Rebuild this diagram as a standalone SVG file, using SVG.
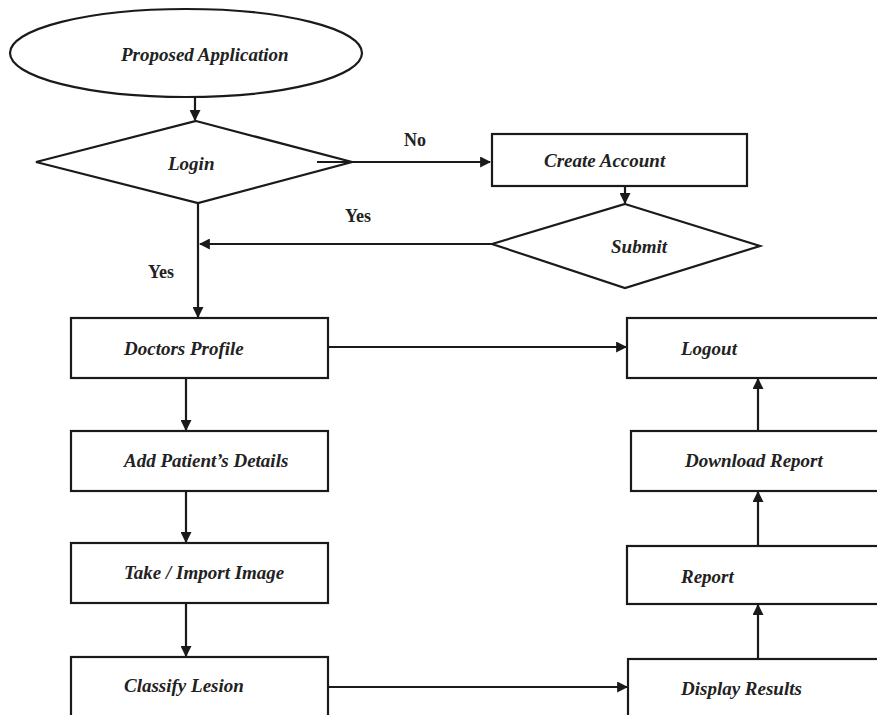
<svg xmlns="http://www.w3.org/2000/svg" width="877" height="715" viewBox="0 0 877 715">
<style>
.shape{fill:#fff;stroke:#1a1a1a;stroke-width:2.2}
.t{font-family:"Liberation Serif","Times New Roman",serif;font-weight:bold;font-style:italic;font-size:19px;fill:#222}
.lbl{font-family:"Liberation Serif","Times New Roman",serif;font-weight:bold;font-size:18px;fill:#222}
.c{fill:none;stroke:#1a1a1a;stroke-width:2.2}
</style>
<defs>
<marker id="ah" viewBox="0 0 10 10" refX="9" refY="5" markerWidth="5" markerHeight="5" orient="auto" markerUnits="strokeWidth">
<path d="M0,0 L10,5 L0,10 z" fill="#1a1a1a"/>
</marker>
</defs>
<rect width="877" height="715" fill="#fff"/>
<g id="connectors">
<line class="c" x1="195" y1="97" x2="195" y2="120" marker-end="url(#ah)"/>
<line class="c" x1="317" y1="162" x2="490" y2="162" marker-end="url(#ah)"/>
<line class="c" x1="625" y1="186" x2="625" y2="203" marker-end="url(#ah)"/>
<line class="c" x1="492" y1="244" x2="200" y2="244" marker-end="url(#ah)"/>
<line class="c" x1="198" y1="203" x2="198" y2="317" marker-end="url(#ah)"/>
<line class="c" x1="186" y1="378" x2="186" y2="430" marker-end="url(#ah)"/>
<line class="c" x1="186" y1="491" x2="186" y2="542" marker-end="url(#ah)"/>
<line class="c" x1="186" y1="603" x2="186" y2="656" marker-end="url(#ah)"/>
<line class="c" x1="328" y1="347" x2="626" y2="347" marker-end="url(#ah)"/>
<line class="c" x1="328" y1="687" x2="627" y2="687" marker-end="url(#ah)"/>
<line class="c" x1="758" y1="659" x2="758" y2="605" marker-end="url(#ah)"/>
<line class="c" x1="758" y1="546" x2="758" y2="492" marker-end="url(#ah)"/>
<line class="c" x1="758" y1="431" x2="758" y2="379" marker-end="url(#ah)"/>
</g>
<g id="proposed-application">
<ellipse class="shape" cx="186" cy="53" rx="176" ry="44"/>
<text class="t" x="121" y="61">Proposed Application</text>
</g>
<g id="login">
<polygon class="shape" points="196,121 352,162 198,203 36,162"/>
<line class="c" x1="317" y1="162" x2="352" y2="162"/>
<text class="t" x="168" y="170">Login</text>
</g>
<g id="create-account">
<rect class="shape" x="492" y="134" width="255" height="52"/>
<text class="t" x="544" y="167">Create Account</text>
</g>
<g id="submit">
<polygon class="shape" points="625,204 760,246 625,288 492,244"/>
<text class="t" x="611" y="253">Submit</text>
</g>
<g id="doctors-profile">
<rect class="shape" x="71" y="318" width="257" height="60"/>
<text class="t" x="124" y="355">Doctors Profile</text>
</g>
<g id="add-patient-details">
<rect class="shape" x="71" y="431" width="257" height="60"/>
<text class="t" x="124" y="467">Add Patient’s Details</text>
</g>
<g id="take-import-image">
<rect class="shape" x="71" y="543" width="257" height="60"/>
<text class="t" x="124" y="579">Take / Import Image</text>
</g>
<g id="classify-lesion">
<rect class="shape" x="71" y="657" width="257" height="62"/>
<text class="t" x="124" y="692">Classify Lesion</text>
</g>
<g id="logout">
<rect class="shape" x="627" y="318" width="260" height="60"/>
<text class="t" x="681" y="355">Logout</text>
</g>
<g id="download-report">
<rect class="shape" x="631" y="431" width="256" height="60"/>
<text class="t" x="685" y="467">Download Report</text>
</g>
<g id="report">
<rect class="shape" x="627" y="546" width="260" height="58"/>
<text class="t" x="681" y="583">Report</text>
</g>
<g id="display-results">
<rect class="shape" x="628" y="659" width="260" height="62"/>
<text class="t" x="681" y="695">Display Results</text>
</g>
<g id="labels">
<text class="lbl" x="404" y="146">No</text>
<text class="lbl" x="345" y="222">Yes</text>
<text class="lbl" x="148" y="278">Yes</text>
</g>
</svg>
